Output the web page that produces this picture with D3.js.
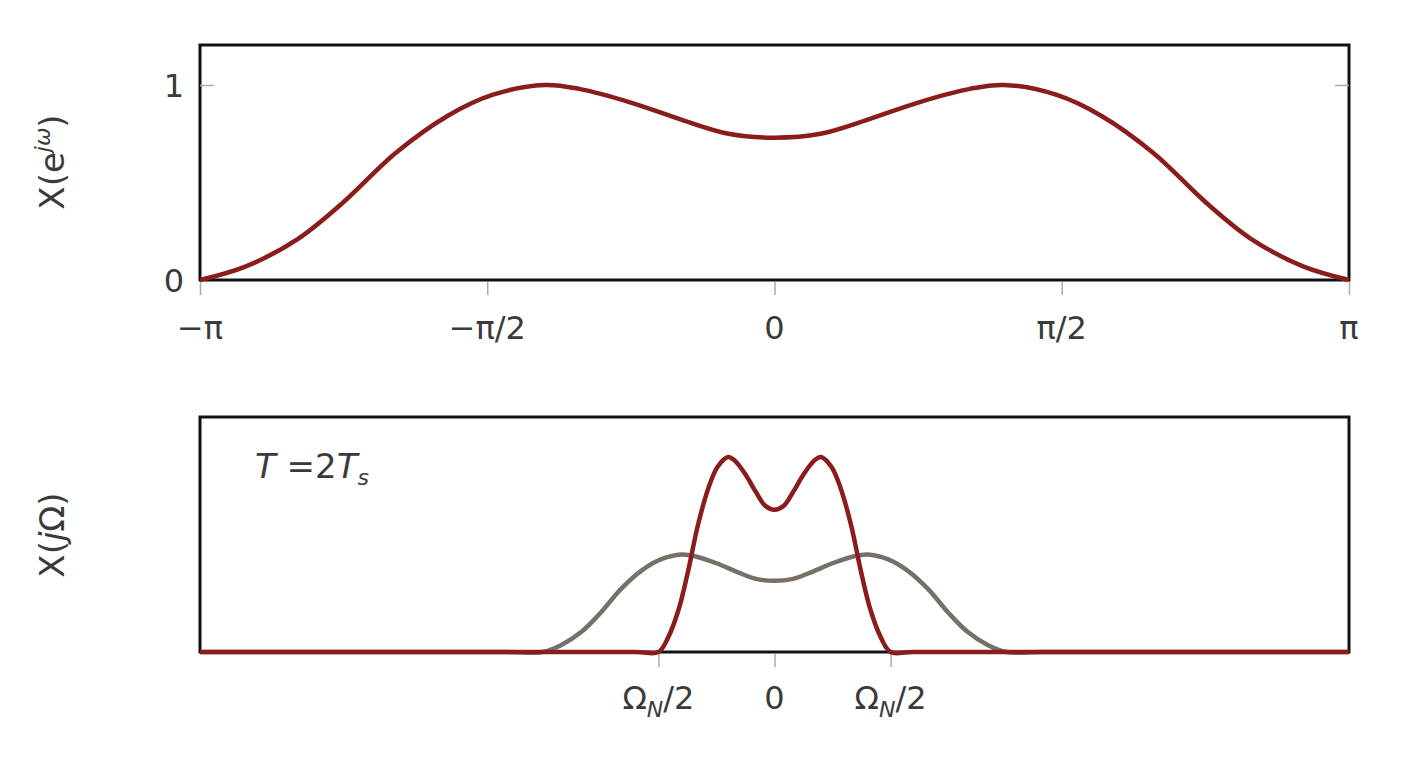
<!DOCTYPE html>
<html>
<head>
<meta charset="utf-8">
<script src="https://cdn.jsdelivr.net/npm/d3@7"></script>
<style>
  body { margin: 0; background: #fff; }
  text { font-family: "DejaVu Sans", "Liberation Sans", sans-serif; fill: #3a3a3a; }
</style>
</head>
<body>
<div id="viz"></div>
<script>
// top panel: X(e^jw), omega in units of pi
const topOmega = [-1, -0.92, -0.83, -0.75, -0.66, -0.57, -0.49, -0.40, -0.34, -0.25, -0.16, -0.08, 0,
                  0.08, 0.16, 0.25, 0.34, 0.40, 0.49, 0.57, 0.66, 0.75, 0.83, 0.92, 1]
const topMag = [0, 0.07, 0.21, 0.40, 0.65, 0.84, 0.95, 1.00, 0.98, 0.91, 0.82, 0.75, 0.73,
                0.75, 0.82, 0.91, 0.98, 1.00, 0.95, 0.84, 0.65, 0.40, 0.21, 0.07, 0]
const topTicks = [-1, -0.5, 0, 0.5, 1]
const topTickLabels = ["−π", "−π/2", "0", "π/2", "π"]

// bottom panel: X(jOmega), Omega in units of Omega_N/2
const redOmega = [-4.95, -1.2, -1, -0.92, -0.83, -0.75, -0.66, -0.57, -0.49, -0.40, -0.34, -0.25, -0.16, -0.08, 0,
                  0.08, 0.16, 0.25, 0.34, 0.40, 0.49, 0.57, 0.66, 0.75, 0.83, 0.92, 1, 1.2, 4.95]
const redMag = [0, 0, 0, 0.07, 0.21, 0.40, 0.65, 0.84, 0.95, 1.00, 0.98, 0.91, 0.82, 0.75, 0.73,
                0.75, 0.82, 0.91, 0.98, 1.00, 0.95, 0.84, 0.65, 0.40, 0.21, 0.07, 0, 0, 0]
const grayOmega = [-4.95, -2.3, -2, -1.84, -1.66, -1.50, -1.32, -1.14, -0.98, -0.80, -0.68, -0.50, -0.32, -0.16, 0,
                   0.16, 0.32, 0.50, 0.68, 0.80, 0.98, 1.14, 1.32, 1.50, 1.66, 1.84, 2, 2.3, 4.95]
const grayMag = [0, 0, 0, 0.035, 0.105, 0.20, 0.325, 0.42, 0.475, 0.50, 0.49, 0.455, 0.41, 0.375, 0.365,
                 0.375, 0.41, 0.455, 0.49, 0.50, 0.475, 0.42, 0.325, 0.20, 0.105, 0.035, 0, 0, 0]
const botTicks = [-1, 0, 1]

const width = 1404, height = 764
const red = "#8a1c1c", gray = "#777069"

const svg = d3.select("#viz").append("svg")
    .attr("width", width)
    .attr("height", height)

const xTop = d3.scaleLinear().domain([-1, 1]).range([200, 1349])
const yTop = d3.scaleLinear().domain([0, 1.205]).range([280, 45])
const xBot = d3.scaleLinear().domain([-4.95, 4.95]).range([200, 1349])
const yBot = d3.scaleLinear().domain([0, 1.205]).range([652, 417])

function frame(x, y) {
  svg.append("rect")
      .attr("x", x.range()[0])
      .attr("y", y.range()[1])
      .attr("width", x.range()[1] - x.range()[0])
      .attr("height", y.range()[0] - y.range()[1])
      .attr("fill", "none")
      .attr("stroke", "#111")
      .attr("stroke-width", 3)
}

function ticksBelow(x, y, vals) {
  svg.append("g")
      .attr("transform", `translate(0,${y.range()[0] + 2})`)
      .call(d3.axisBottom(x).tickValues(vals).tickSize(13).tickFormat(""))
      .call(g => g.select(".domain").remove())
      .call(g => g.selectAll("line").attr("stroke", "#aaa").attr("stroke-width", 1.5))
}

function curve(x, y, xs, ys, color) {
  const line = d3.line()
      .x((d, i) => x(xs[i]))
      .y((d, i) => Math.min(y(ys[i]), y(0)))
      .curve(d3.curveCatmullRom.alpha(0.5))
  svg.append("path")
      .attr("d", line(ys))
      .attr("fill", "none")
      .attr("stroke", color)
      .attr("stroke-width", 4.5)
      .attr("stroke-linejoin", "round")
}

// ---- top panel
frame(xTop, yTop)
ticksBelow(xTop, yTop, topTicks)
// y ticks inside frame at 1, both sides
svg.append("g")
    .attr("transform", `translate(${xTop.range()[0]},0)`)
    .call(d3.axisRight(yTop).tickValues([1]).tickSize(14).tickFormat(""))
    .call(g => g.select(".domain").remove())
    .call(g => g.selectAll("line").attr("stroke", "#aaa").attr("stroke-width", 1.5))
svg.append("g")
    .attr("transform", `translate(${xTop.range()[1]},0)`)
    .call(d3.axisLeft(yTop).tickValues([1]).tickSize(14).tickFormat(""))
    .call(g => g.select(".domain").remove())
    .call(g => g.selectAll("line").attr("stroke", "#aaa").attr("stroke-width", 1.5))

svg.selectAll(".ylab")
  .data([0, 1])
  .join("text")
    .attr("x", 184)
    .attr("y", d => yTop(d) + 12)
    .attr("text-anchor", "end")
    .style("font-size", "32px")
    .text(d => d)

svg.selectAll(".xlab")
  .data(topTicks)
  .join("text")
    .attr("x", d => xTop(d))
    .attr("y", 339)
    .attr("text-anchor", "middle")
    .style("font-size", "32px")
    .text((d, i) => topTickLabels[i])

curve(xTop, yTop, topOmega, topMag, red)

const yl1 = svg.append("text")
    .attr("transform", "translate(64,162) rotate(-90)")
    .attr("text-anchor", "middle")
    .style("font-size", "34px")
yl1.append("tspan").text("X(e")
yl1.append("tspan").attr("dy", -14).style("font-size", "22px").style("font-style", "italic").text("jω")
yl1.append("tspan").attr("dy", 14).text(")")

// ---- bottom panel
frame(xBot, yBot)
ticksBelow(xBot, yBot, botTicks)

botTicks.forEach(d => {
  const t = svg.append("text")
      .attr("x", xBot(d))
      .attr("y", 709)
      .attr("text-anchor", "middle")
      .style("font-size", "32px")
  if (d === 0) {
    t.text("0")
  } else {
    t.append("tspan").text("Ω")
    t.append("tspan").attr("dy", 8).style("font-size", "22px").style("font-style", "italic").text("N")
    t.append("tspan").attr("dy", -8).text("/2")
  }
})

curve(xBot, yBot, grayOmega, grayMag, gray)
curve(xBot, yBot, redOmega, redMag, red)

const yl2 = svg.append("text")
    .attr("transform", "translate(64,535) rotate(-90)")
    .attr("text-anchor", "middle")
    .style("font-size", "34px")
yl2.append("tspan").text("X(")
yl2.append("tspan").style("font-style", "italic").text("j")
yl2.append("tspan").text("Ω)")

const ann = svg.append("text")
    .attr("x", 255)
    .attr("y", 478)
    .style("font-size", "34px")
ann.append("tspan").style("font-style", "italic").text("T")
ann.append("tspan").text(" =2")
ann.append("tspan").style("font-style", "italic").text("T")
ann.append("tspan").attr("dy", 7).style("font-size", "22px").style("font-style", "italic").text("s")
</script>
</body>
</html>
